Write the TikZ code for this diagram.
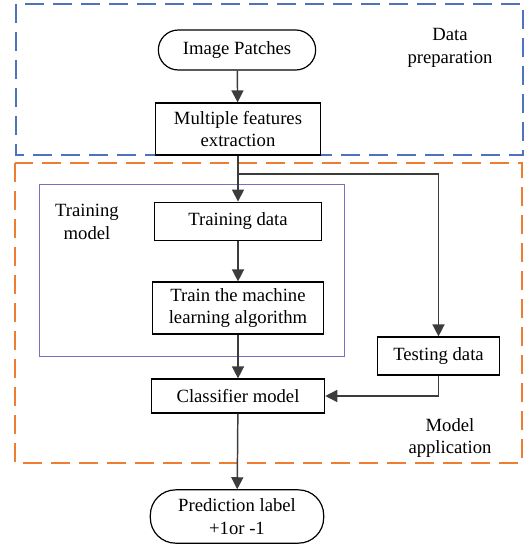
\documentclass[tikz,border=0pt]{standalone}
\usepackage{fontspec}
\setmainfont{Liberation Serif}
\usepackage{tikz}
\usetikzlibrary{arrows.meta,positioning,calc}
\definecolor{prepblue}{RGB}{78,114,190}
\definecolor{apporange}{RGB}{237,125,49}
\definecolor{trainviolet}{RGB}{120,112,190}
\definecolor{linegray}{RGB}{60,60,60}

\begin{document}
\begin{tikzpicture}[x=0.75pt, y=-0.75pt,
  font=\fontsize{14}{17}\selectfont,
  box/.style={draw, rectangle, line width=0.9pt, align=center, inner sep=2pt},
  region/.style={line width=1.4pt, dash pattern=on 14pt off 7pt},
  arr/.style={-{Triangle[length=9pt, width=9pt]}, line width=1.1pt, linegray}]
\useasboundingbox (0,0) rectangle (531,547);
% regions
\draw[region, prepblue] (16,4) rectangle (523,155);
\draw[region, apporange] (15,163) rectangle (522,463);
\draw[trainviolet, line width=0.7pt] (39,184) rectangle (344,356);
% region labels
\node[align=center] (prep) at (450,48) {Data\\preparation};
\node[align=center] (trmod) at (87,222) {Training\\model};
\node[align=center] (app) at (450,438) {Model\\application};
% main column
\node[box, rounded corners=15pt, minimum width=118pt, minimum height=30pt] (img) at (237,50) {Image Patches};
\node[box, minimum width=124pt, minimum height=39pt] (feat) at (238,129) {Multiple features\\extraction};
\node[box, minimum width=125pt, minimum height=29pt] (tdata) at (238,221.5) {Training data};
\node[box, minimum width=128pt, minimum height=39pt] (algo) at (238,308) {Train the machine\\learning algorithm};
\node[box, minimum width=130pt, minimum height=25.5pt] (clf) at (238,396) {Classifier model};
\node[box, rounded corners=19pt, minimum width=130pt, minimum height=40pt] (pred) at (237,516.5) {Prediction label\\+1or -1};
% testing branch
\node[box, minimum width=92pt, minimum height=28.5pt] (test) at (438.5,356) {Testing data};
\coordinate (split) at (238,174);
\draw[arr] (img) -- (feat);
\draw[arr] (feat) -- (tdata);
\draw[arr] (tdata) -- (algo);
\draw[arr] (algo) -- (clf);
\draw[arr] (clf) -- (pred);
\draw[arr] (split) -| (test);
\draw[arr] (test.south) |- (clf.east);
\end{tikzpicture}
\end{document}
